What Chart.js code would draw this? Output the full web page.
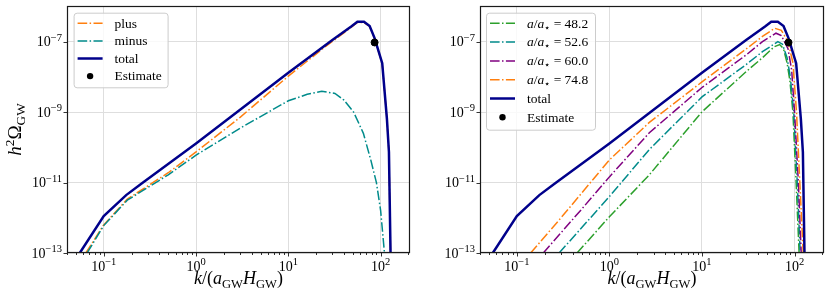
<!DOCTYPE html>
<html>
<head>
<meta charset="utf-8">
<script src="https://cdn.jsdelivr.net/npm/chart.js@4.4.0/dist/chart.umd.min.js"></script>
<style>
html, body { margin: 0; padding: 0; background: #fff; }
#wrap { position: relative; width: 831px; height: 300px; }
#left, #right { position: absolute; top: 0; }
#left { left: 0; }
#right { left: 415px; }
</style>
</head>
<body>
<div id="wrap">
  <canvas id="left" width="415" height="300"></canvas>
  <canvas id="right" width="416" height="300"></canvas>
</div>
<script>
// ---- values ----
var kTotal = [0.055, 0.1, 0.175, 0.264, 1, 10, 30, 48, 56, 66, 76, 86, 104, 117, 123, 128];
var hTotal = [1e-13, 1.12e-12, 4.4e-12, 9.8e-12, 1.29e-10, 1.32e-8, 1.11e-7, 2.7e-7, 3.7e-7, 3.7e-7, 2.8e-7, 1.26e-7, 2.45e-8, 6.3e-10, 7.4e-11, 1e-13];

var kPlus = [0.064, 0.1, 0.18, 0.5, 1, 3, 10, 23, 40, 56, 66, 76, 86, 104, 117, 123, 128];
var hPlus = [1e-13, 6.3e-13, 3.4e-12, 1.9e-11, 7.4e-11, 7.1e-10, 1.05e-8, 6.0e-8, 1.78e-7, 3.5e-7, 3.5e-7, 2.7e-7, 1.2e-7, 2.4e-8, 6.3e-10, 7.2e-11, 1e-13];

var kMinus = [0.066, 0.1, 0.18, 0.5, 1, 3, 10, 16, 23, 32, 40, 51, 65, 78, 90, 100, 110];
var hMinus = [1e-13, 6.0e-13, 3.16e-12, 1.66e-11, 6.0e-11, 3.5e-10, 2.1e-9, 3.2e-9, 3.9e-9, 3.4e-9, 2.2e-9, 1.0e-9, 2.5e-10, 4.5e-11, 1.0e-11, 1.6e-12, 1e-13];

var ratios = ['48.2', '52.6', '60.0', '74.8'];
var k482 = [0.447, 1, 2.7, 10, 30, 45, 60, 69, 76, 83, 89, 96, 104, 112];
var h482 = [1e-13, 1.07e-12, 1.66e-11, 1.02e-9, 1.41e-8, 3.5e-8, 7.1e-8, 8.3e-8, 6.3e-8, 2.5e-8, 7.9e-9, 1e-9, 1e-11, 1e-13];
var k526 = [0.286, 1, 2.7, 10, 30, 45, 66, 74, 83, 90, 98, 107, 115];
var h526 = [1e-13, 4.0e-12, 8.7e-11, 2.7e-9, 2.24e-8, 5.2e-8, 1.0e-7, 8.5e-8, 3.5e-8, 1e-8, 1e-9, 1e-11, 1e-13];
var k600 = [0.193, 0.5, 1, 2.7, 10, 30, 45, 63, 72, 85, 93, 100, 110, 118];
var h600 = [1e-13, 1.74e-12, 1.45e-11, 2.6e-10, 5.0e-9, 4.2e-8, 1.0e-7, 1.74e-7, 1.5e-7, 6.3e-8, 1.58e-8, 1e-9, 1e-11, 1e-13];
var k748 = [0.141, 0.3, 1, 2.7, 10, 30, 45, 61, 72, 85, 96, 105, 114, 124];
var h748 = [1e-13, 1.0e-12, 4.4e-11, 5.1e-10, 7.2e-9, 6.2e-8, 1.41e-7, 2.4e-7, 2.1e-7, 1.0e-7, 2.5e-8, 1e-9, 1e-11, 1e-13];

var kEst = [86];
var hEst = [9.5e-8];

var xMajor = [0.1, 1, 10, 100];
var yMajor = [1e-13, 1e-11, 1e-9, 1e-7];

// ---- style ----
var X_MIN = 0.04, X_MAX = 208, Y_MIN = 1e-13, Y_MAX = 1.03e-6;
var FONT = '"Liberation Serif", "DejaVu Serif", serif';
var ORANGE = '#ff7f0e', TEAL = '#008b8b', PURPLE = '#800080', GREEN = '#2ca02c', NAVY = '#00008b';
var DASHDOT = [9.6, 2.4, 1.5, 2.4];

function pts(k, h) {
    return k.map(function (v, i) { return { x: v, y: h[i] }; });
}

function dashLine(label, k, h, color, order) {
    return {
        label: label, data: pts(k, h), borderColor: color, backgroundColor: color,
        borderWidth: 1.5, borderDash: DASHDOT, pointRadius: 0, order: order, fill: false
    };
}

function totalLine() {
    return {
        label: 'total', data: pts(kTotal, hTotal), borderColor: NAVY, backgroundColor: NAVY,
        borderWidth: 2.5, pointRadius: 0, order: 1, fill: false
    };
}

function estimate() {
    return {
        label: 'Estimate', data: pts(kEst, hEst), showLine: false, pointRadius: 3.5,
        pointBackgroundColor: '#000', pointBorderColor: '#000', borderColor: '#000',
        backgroundColor: '#000', order: 0, isDot: true
    };
}

function ratioParts(r) {
    return [['a', 'i'], ['/', 'r'], ['a', 'i'], ['\u22C6', 'sub'], [' = ' + r, 'r']];
}

// ---- rich text (sub/superscripts) ----
function partFont(p, size, small) {
    if (p[1] === 'sub' || p[1] === 'sup') return Math.round(size * (small || 0.7) * 10) / 10 + 'px ' + FONT;
    return (p[1] === 'i' ? 'italic ' : '') + size + 'px ' + FONT;
}

function drawRich(ctx, parts, x, y, size, align, small) {
    var w = 0;
    parts.forEach(function (p) { ctx.font = partFont(p, size, small); w += ctx.measureText(p[0]).width; });
    var cx = align === 'center' ? x - w / 2 : (align === 'right' ? x - w : x);
    ctx.textAlign = 'left';
    ctx.textBaseline = 'alphabetic';
    parts.forEach(function (p) {
        ctx.font = partFont(p, size, small);
        var dy = p[1] === 'sub' ? size * 0.22 : (p[1] === 'sup' ? -size * 0.38 : 0);
        ctx.fillText(p[0], cx, y + dy);
        cx += ctx.measureText(p[0]).width;
    });
}

function expLabel(v) {
    var e = Math.round(Math.log10(v));
    return [['10', 'r'], [(e < 0 ? '\u2212' : '') + Math.abs(e), 'sup']];
}

// ---- axes ----
function xScale() {
    return {
        type: 'logarithmic', min: X_MIN, max: X_MAX,
        afterBuildTicks: function (s) {
            var out = [];
            for (var e = -2; e <= 2; e++) {
                for (var m = 1; m <= 9; m++) {
                    var v = m * Math.pow(10, e);
                    if (v >= X_MIN && v <= X_MAX) out.push({ value: v, major: m === 1 });
                }
            }
            s.ticks = out;
        },
        ticks: { display: false },
        grid: {
            drawTicks: false, lineWidth: 1,
            color: function (c) { return c.tick && c.tick.major ? '#dedede' : 'rgba(0,0,0,0)'; }
        },
        border: { display: false },
        afterFit: function (s) { s.height = 47; }
    };
}

function yScale(width) {
    return {
        type: 'logarithmic', min: Y_MIN, max: Y_MAX,
        afterBuildTicks: function (s) {
            s.ticks = yMajor.map(function (v) { return { value: v, major: true }; });
        },
        ticks: { display: false },
        grid: { drawTicks: false, lineWidth: 1, color: '#dedede' },
        border: { display: false },
        afterFit: function (s) { s.width = width; }
    };
}

// ---- frame, tick labels, titles and legend ----
var paperPlugin = {
    id: 'paper',
    afterDatasetsDraw: function (chart, args, opts) {
        var ctx = chart.ctx, a = chart.chartArea;
        var xs = chart.scales.x, ys = chart.scales.y;
        ctx.save();

        // ticks
        ctx.strokeStyle = '#000';
        ctx.lineWidth = 0.8;
        xs.ticks.forEach(function (t) {
            var px = Math.round(xs.getPixelForValue(t.value)) + 0.5;
            ctx.beginPath();
            ctx.moveTo(px, a.bottom);
            ctx.lineTo(px, a.bottom + (t.major ? 3.5 : 2));
            ctx.stroke();
        });
        ys.ticks.forEach(function (t) {
            var py = Math.round(ys.getPixelForValue(t.value)) + 0.5;
            ctx.beginPath();
            ctx.moveTo(a.left, py);
            ctx.lineTo(a.left - 3.5, py);
            ctx.stroke();
        });

        // frame
        ctx.strokeStyle = '#1a1a1a';
        ctx.lineWidth = 1.2;
        ctx.strokeRect(Math.round(a.left) + 0.5, Math.round(a.top) + 0.5,
            Math.round(a.right - a.left) - 1, Math.round(a.bottom - a.top) - 1);

        // tick labels
        ctx.fillStyle = '#000';
        xMajor.forEach(function (v) {
            drawRich(ctx, expLabel(v), xs.getPixelForValue(v), a.bottom + 17.5, 14, 'center', 0.75);
        });
        yMajor.forEach(function (v) {
            drawRich(ctx, expLabel(v), a.left - 5, ys.getPixelForValue(v) + 4.5, 14, 'right', 0.75);
        });

        // axis titles
        drawRich(ctx, [['k', 'i'], ['/(', 'r'], ['a', 'i'], ['GW', 'sub'], ['H', 'i'], ['GW', 'sub'], [')', 'r']],
            (a.left + a.right) / 2, 284, 18, 'center');
        if (opts.yTitle) {
            ctx.save();
            ctx.translate(21, (a.top + a.bottom) / 2);
            ctx.rotate(-Math.PI / 2);
            drawRich(ctx, [['h', 'i'], ['2', 'sup'], ['\u03A9', 'r'], ['GW', 'sub']], 0, 0, 19, 'center');
            ctx.restore();
        }

        // legend
        var L = opts.legend;
        var bx = a.left + L.dx, by = a.top + L.dy;
        ctx.beginPath();
        if (ctx.roundRect) ctx.roundRect(bx + 0.5, by + 0.5, L.w, L.h, 3);
        else ctx.rect(bx + 0.5, by + 0.5, L.w, L.h);
        ctx.fillStyle = 'rgba(255,255,255,0.8)';
        ctx.fill();
        ctx.strokeStyle = '#cccccc';
        ctx.lineWidth = 1;
        ctx.stroke();

        chart.data.datasets.forEach(function (ds, i) {
            var ry = by + L.first + i * L.gap;
            var sx = bx + 4, ex = bx + 29;
            if (ds.isDot) {
                ctx.beginPath();
                ctx.arc((sx + ex) / 2, ry, 3.2, 0, Math.PI * 2);
                ctx.fillStyle = '#000';
                ctx.fill();
            } else {
                ctx.beginPath();
                ctx.setLineDash(ds.borderDash || []);
                ctx.strokeStyle = ds.borderColor;
                ctx.lineWidth = ds.borderWidth;
                ctx.moveTo(sx, ry);
                ctx.lineTo(ex, ry);
                ctx.stroke();
                ctx.setLineDash([]);
            }
            ctx.fillStyle = '#000';
            drawRich(ctx, ds.legendParts || [[ds.label, 'r']], bx + 41, ry + 4.3, 13.5, 'left');
        });
        ctx.restore();
    }
};

function makeChart(id, datasets, padRight, yWidth, paperOpts) {
    return new Chart(document.getElementById(id), {
        type: 'line',
        data: { datasets: datasets },
        options: {
            responsive: false,
            animation: false,
            layout: { padding: { left: 0, right: padRight, top: 6, bottom: 0 } },
            elements: { line: { tension: 0 }, point: { radius: 0 } },
            plugins: { legend: { display: false }, tooltip: { enabled: false }, paper: paperOpts },
            scales: { x: xScale(), y: yScale(yWidth) }
        },
        plugins: [paperPlugin]
    });
}

var leftSets = [
    dashLine('plus', kPlus, hPlus, ORANGE, 3),
    dashLine('minus', kMinus, hMinus, TEAL, 2),
    totalLine(),
    estimate()
];

var rightSets = [
    dashLine('a/a* = ' + ratios[0], k482, h482, GREEN, 5),
    dashLine('a/a* = ' + ratios[1], k526, h526, TEAL, 4),
    dashLine('a/a* = ' + ratios[2], k600, h600, PURPLE, 3),
    dashLine('a/a* = ' + ratios[3], k748, h748, ORANGE, 2),
    totalLine(),
    estimate()
];
for (var r = 0; r < ratios.length; r++) rightSets[r].legendParts = ratioParts(ratios[r]);

makeChart('left', leftSets, 2, 67, {
    yTitle: true,
    legend: { dx: 6.6, dy: 6.7, w: 94, h: 74.6, first: 10.6, gap: 17.6 }
});
makeChart('right', rightSets, 7, 65, {
    yTitle: false,
    legend: { dx: 6, dy: 6.7, w: 109, h: 117, first: 10.6, gap: 18.8 }
});
</script>
</body>
</html>
